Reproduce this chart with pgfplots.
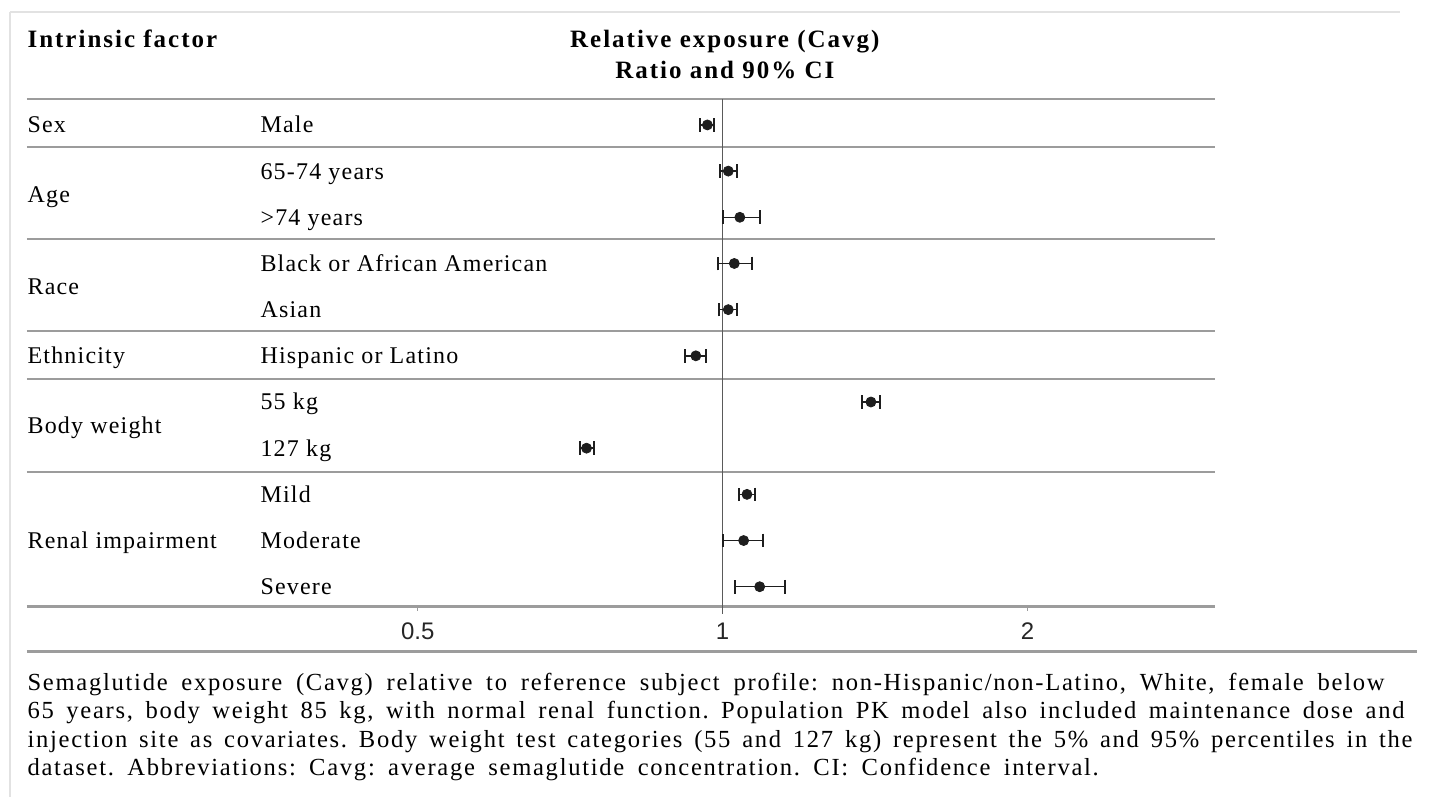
\documentclass[border=0pt]{standalone}
\usepackage{pgfplots}
\pgfplotsset{compat=1.18}
\usepackage{pgfplotstable}
\usepackage{fontspec}
\setmainfont{Liberation Serif}
\newfontfamily\ticksans{Liberation Sans}
\newfontfamily\hdfont[LetterSpace=8]{Liberation Serif}
\newfontfamily\lblfont[LetterSpace=5]{Liberation Serif}
\newfontfamily\notefont[LetterSpace=7]{Liberation Serif}
\frenchspacing

\definecolor{rulegray}{HTML}{9C9C9C}
\definecolor{refgray}{HTML}{5A5A5A}
\definecolor{framegray}{HTML}{E2E2E2}
\definecolor{barblack}{HTML}{1E1E1E}

\tikzset{
    lbl/.style={anchor=west, inner sep=0pt, text height=8pt, text depth=0pt,
        font=\lblfont\fontsize{12}{14}\selectfont},
    hd/.style={inner sep=0pt, text height=8pt, text depth=0pt,
        font=\hdfont\bfseries\fontsize{12.5}{14}\selectfont},
    note/.style={anchor=base west, inner sep=0pt,
        font=\notefont\fontsize{12.3}{14}\selectfont},
}

% ratio, row (negative, top row = -1), CI plus / minus
\pgfplotstableread{
ratio  row  eplus  eminus
0.966  -1   0.014  0.017
1.013  -2   0.021  0.018
1.040  -3   0.048  0.040
1.027  -4   0.043  0.037
1.013  -5   0.021  0.021
0.941  -6   0.023  0.023
1.401  -7   0.028  0.027
0.734  -8   0.012  0.010
1.057  -9   0.019  0.018
1.049  -10  0.046  0.047
1.088  -11  0.065  0.060
}\cavg

\begin{document}
\begin{tikzpicture}
\begin{axis}[
    scale only axis,
    width=594.5pt, height=254pt,
    xmode=log,
    xmin=0.2057, xmax=3.063,
    ymin=-11.43, ymax=-0.438,
    axis line style={draw=none},
    ytick=\empty,
    xtick={0.5,1,2},
    xticklabels={0.5,1,2},
    xtick pos=lower,
    tick align=outside,
    major tick length=2pt,
    x tick style={rulegray, line width=0.6pt},
    xticklabel style={font=\ticksans\fontsize{12}{12}\selectfont, text=black!85, yshift=-2.5pt},
    clip=false,
]
% page frame and size
\path (axis cs:0.1935,1.7056) rectangle (axis cs:4.982,-15.545);
\draw[framegray, line width=0.8pt] (axis cs:0.198,1.446) -- (axis cs:4.665,1.446);
\draw[framegray, line width=0.8pt] (axis cs:0.198,1.446) -- (axis cs:0.198,-15.545);

% table rules
\draw[rulegray, line width=1.2pt] (axis cs:0.2057,-0.438) -- (axis cs:3.063,-0.438);
\draw[rulegray, line width=1.2pt] (axis cs:0.2057,-1.476) -- (axis cs:3.063,-1.476);
\draw[rulegray, line width=1.2pt] (axis cs:0.2057,-3.468) -- (axis cs:3.063,-3.468);
\draw[rulegray, line width=1.2pt] (axis cs:0.2057,-5.459) -- (axis cs:3.063,-5.459);
\draw[rulegray, line width=1.2pt] (axis cs:0.2057,-6.498) -- (axis cs:3.063,-6.498);
\draw[rulegray, line width=1.2pt] (axis cs:0.2057,-8.51) -- (axis cs:3.063,-8.51);
\draw[rulegray, line width=1.2pt] (axis cs:0.2057,-11.43) -- (axis cs:3.063,-11.43);
\draw[rulegray, line width=1.2pt] (axis cs:0.2057,-12.407) -- (axis cs:4.848,-12.407);

% line of no effect
\draw[refgray, line width=0.6pt] (axis cs:1,-0.438) -- (axis cs:1,-11.58);

\addplot[only marks, mark=*, mark size=2.5pt, barblack,
    error bars/.cd, x dir=both, x explicit,
    error mark=|,
    error bar style={line width=0.75pt, barblack},
    error mark options={mark size=3.4pt, line width=1pt, barblack}]
    table[x=ratio, y=row, x error plus=eplus, x error minus=eminus]{\cavg};

% headers
\node[hd, anchor=west] at (axis cs:0.2058,0.84) {Intrinsic factor};
\node[hd] at (axis cs:1.005,0.84) {Relative exposure (Cavg)};
\node[hd] at (axis cs:1.005,0.169) {Ratio and 90\% CI};

% group labels
\node[lbl] at (axis cs:0.2058,-1) {Sex};
\node[lbl] at (axis cs:0.2058,-2.5) {Age};
\node[lbl] at (axis cs:0.2058,-4.5) {Race};
\node[lbl] at (axis cs:0.2058,-6) {Ethnicity};
\node[lbl] at (axis cs:0.2058,-7.5) {Body weight};
\node[lbl] at (axis cs:0.2058,-10) {Renal impairment};

% subgroup labels
\node[lbl] at (axis cs:0.3495,-1) {Male};
\node[lbl] at (axis cs:0.3495,-2) {65-74 years};
\node[lbl] at (axis cs:0.3495,-3) {>74 years};
\node[lbl] at (axis cs:0.3495,-4) {Black or African American};
\node[lbl] at (axis cs:0.3495,-5) {Asian};
\node[lbl] at (axis cs:0.3495,-6) {Hispanic or Latino};
\node[lbl] at (axis cs:0.3495,-7) {55 kg};
\node[lbl] at (axis cs:0.3495,-8) {127 kg};
\node[lbl] at (axis cs:0.3495,-9) {Mild};
\node[lbl] at (axis cs:0.3495,-10) {Moderate};
\node[lbl] at (axis cs:0.3495,-11) {Severe};

% footnote
\node[note] at (axis cs:0.2058,-13.25) {\parbox[t]{700pt}{\baselineskip=14.2pt
\makebox[679pt][s]{Semaglutide exposure (Cavg) relative to reference subject profile: non-Hispanic/non-Latino, White, female below}\\
\makebox[689pt][s]{65 years, body weight 85 kg, with normal renal function. Population PK model also included maintenance dose and}\\
\makebox[693pt][s]{injection site as covariates. Body weight test categories (55 and 127 kg) represent the 5\% and 95\% percentiles in the}\\
\makebox[536pt][s]{dataset. Abbreviations: Cavg: average semaglutide concentration. CI: Confidence interval.}}};
\end{axis}
\end{tikzpicture}
\end{document}
